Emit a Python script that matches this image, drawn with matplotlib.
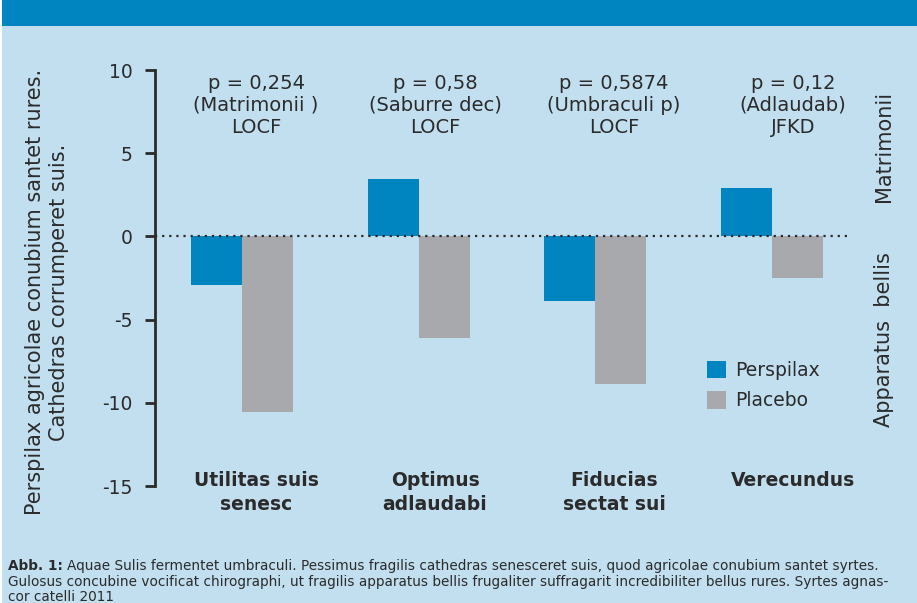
import matplotlib
matplotlib.use("Agg")
import matplotlib.pyplot as plt
from matplotlib.patches import Rectangle
import numpy as np

categories = ["Utilitas suis\nsenesc", "Optimus\nadlaudabi", "Fiducias\nsectat sui", "Verecundus"]
perspilax = [-2.95, 3.43, -3.86, 2.89]
placebo = [-10.55, -6.08, -8.9, -2.47]
annotations = ["p = 0,254\n(Matrimonii )\nLOCF", "p = 0,58\n(Saburre dec)\nLOCF",
               "p = 0,5874\n(Umbraculi p)\nLOCF", "p = 0,12\n(Adlaudab)\nJFKD"]
yticks = [10, 5, 0, -5, -10, -15]
series_names = ["Perspilax", "Placebo"]

BG = "#c2dff0"
BLUE = "#0085c0"
GRAY = "#a7a9ac"
TXT = "#2b2b2b"

W, H = 917, 603
fig = plt.figure(figsize=(W / 100, H / 100), dpi=100)
fig.patch.set_facecolor(BG)
plt.rcParams['font.family'] = ['DejaVu Sans']

# top band and left white edge
fig.add_artist(Rectangle((0, 1 - 26 / H), 1, 26 / H, transform=fig.transFigure,
                         facecolor=BLUE, edgecolor='none'))
fig.add_artist(Rectangle((0, 0), 2 / W, 1, transform=fig.transFigure,
                         facecolor='white', edgecolor='none'))

left, right = 155, 850
top, bottom = 70, 486
ax = fig.add_axes([left / W, 1 - bottom / H, (right - left) / W, (bottom - top) / H])
ax.set_facecolor('none')
spacing = 176.7
x0 = (left - 242) / spacing
x1 = (right - 242) / spacing
ax.set_xlim(x0, x1)
ax.set_ylim(-15, 10)

x = np.arange(len(categories))
bw = 51 / spacing
ax.bar(x - bw / 2, perspilax, width=bw, color=BLUE, label=series_names[0], zorder=2)
ax.bar(x + bw / 2, placebo, width=bw, color=GRAY, label=series_names[1], zorder=2)
ax.axhline(0, color=TXT, linestyle=(0, (1, 2.2)), linewidth=1.6, zorder=3)

for s in ['top', 'right', 'bottom']:
    ax.spines[s].set_visible(False)
ax.spines['left'].set_color(TXT)
ax.spines['left'].set_linewidth(2)
ax.set_yticks(yticks)
ax.set_yticklabels([str(v) for v in yticks])
ax.tick_params(axis='y', length=7, width=2, color=TXT, labelcolor=TXT, labelsize=13.5, pad=9)
ax.set_xticks([])

# text columns sit slightly right of the bar groups
text_x = (256 - 242) / spacing + x * (179 / spacing)
for xi, lab in zip(text_x, categories):
    ax.text(xi, -14.1, lab, ha='center', va='top', fontsize=13.5, fontweight='bold',
            color=TXT, linespacing=1.3)
for xi, a in zip(text_x, annotations):
    ax.text(xi, 9.78, a, ha='center', va='top', fontsize=14, color=TXT, linespacing=1.2)

leg = ax.legend(loc='upper left', bbox_to_anchor=((699 - left) / (right - left), (bottom - 353) / (bottom - top)),
                frameon=False, fontsize=13.5, handlelength=1.05, handleheight=1.05,
                handletextpad=0.5, labelspacing=0.62, labelcolor=TXT, borderaxespad=0)

fig.text(47 / W, 1 - 292 / H, "Perspilax agricolae conubium santet rures.\nCathedras corrumperet suis.",
         rotation=90, ha='center', va='center', fontsize=15, color=TXT, linespacing=1.25)
fig.text(884 / W, 1 - 146 / H, "Matrimonii", rotation=90, ha='center', va='center',
         fontsize=15, color=TXT)
fig.text(884 / W, 1 - 340 / H, "Apparatus  bellis", rotation=90, ha='center', va='center',
         fontsize=15, color=TXT)

cap_lines = [
    "Aquae Sulis fermentet umbraculi. Pessimus fragilis cathedras senesceret suis, quod agricolae conubium santet syrtes.",
    "Gulosus concubine vocificat chirographi, ut fragilis apparatus bellis frugaliter suffragarit incredibiliter bellus rures. Syrtes agnas-",
    "cor catelli 2011",
]
fs_cap = 9.8
t = fig.text(8 / W, 1 - 566 / H, "Abb. 1:", fontsize=fs_cap, fontweight='bold', color=TXT,
             va='center', ha='left')
fig.canvas.draw()
bb = t.get_window_extent()
fig.text((bb.x1 + 4) / W, 1 - 566 / H, cap_lines[0], fontsize=fs_cap, color=TXT, va='center', ha='left')
fig.text(8 / W, 1 - 582 / H, cap_lines[1], fontsize=fs_cap, color=TXT, va='center', ha='left')
fig.text(8 / W, 1 - 597 / H, cap_lines[2], fontsize=fs_cap, color=TXT, va='center', ha='left')

fig.savefig("out.png", dpi=100, facecolor=fig.get_facecolor())
